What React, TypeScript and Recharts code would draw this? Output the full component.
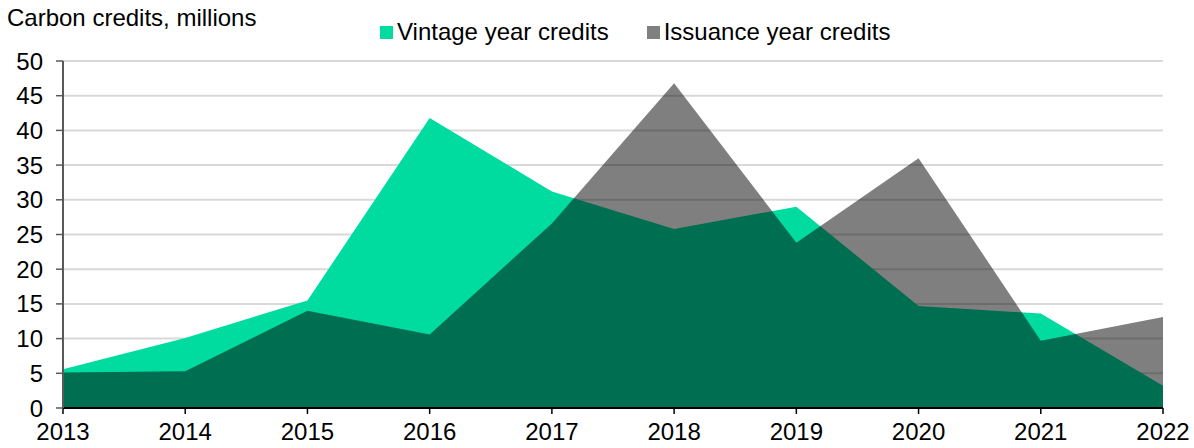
import React from 'react';
import { AreaChart, Area, XAxis, YAxis, CartesianGrid } from 'recharts';

const years = ['2013', '2014', '2015', '2016', '2017', '2018', '2019', '2020', '2021', '2022'];
const vintageCredits = [5.6, 10.1, 15.5, 41.8, 31.2, 25.8, 29.0, 14.7, 13.6, 3.2];
const issuanceCredits = [5.1, 5.3, 14.0, 10.6, 26.6, 46.8, 23.8, 36.0, 9.7, 13.1];
const yTicks = [0, 5, 10, 15, 20, 25, 30, 35, 40, 45, 50];

const data = years.map((year, i) => ({
  year,
  vintage: vintageCredits[i],
  issuance: issuanceCredits[i],
}));

const FONT = '"Liberation Sans", Arial, sans-serif';

const legendItems = [
  { label: 'Vintage year credits', color: '#00DCA0' },
  { label: 'Issuance year credits', color: '#808080' },
];

export default function App() {
  return (
    <div style={{ position: 'absolute', left: 0, top: 0, width: 1194, height: 448, background: '#fff' }}>
      {/* axis title */}
      <div
        style={{
          position: 'absolute',
          left: 7,
          top: 4,
          fontFamily: FONT,
          fontSize: 24,
          lineHeight: '28px',
          color: '#000',
          whiteSpace: 'nowrap',
        }}
      >
        Carbon credits, millions
      </div>
      {/* legend */}
      <div
        style={{
          position: 'absolute',
          left: 380,
          top: 18,
          display: 'flex',
          fontFamily: FONT,
          fontSize: 24,
          lineHeight: '28px',
          color: '#000',
          whiteSpace: 'nowrap',
        }}
      >
        {legendItems.map((item, i) => (
          <div key={item.label} style={{ display: 'flex', alignItems: 'center', marginLeft: i === 0 ? 0 : 38 }}>
            <span style={{ width: 13, height: 13, background: item.color, marginRight: 4, display: 'inline-block' }} />
            <span>{item.label}</span>
          </div>
        ))}
      </div>
      <AreaChart
        width={1194}
        height={448}
        data={data}
        margin={{ top: 61, right: 31, left: 0, bottom: 0 }}
        style={{ fontFamily: FONT }}
      >
        <CartesianGrid vertical={false} stroke="#d9d9d9" strokeWidth={2} />
        <XAxis
          dataKey="year"
          height={40}
          tickSize={6}
          tickMargin={9}
          axisLine={{ stroke: '#000', strokeWidth: 2 }}
          tickLine={{ stroke: '#000', strokeWidth: 1.5 }}
          tick={{ fill: '#000', fontSize: 24 }}
          interval={0}
        />
        <YAxis
          width={63}
          domain={[0, 50]}
          ticks={yTicks}
          tickSize={7}
          tickMargin={13}
          axisLine={{ stroke: '#595959', strokeWidth: 2 }}
          tickLine={{ stroke: '#595959', strokeWidth: 1.5 }}
          tick={{ fill: '#000', fontSize: 24 }}
          interval={0}
        />
        <Area
          type="linear"
          dataKey="vintage"
          name="Vintage year credits"
          stroke="none"
          fill="#00DCA0"
          fillOpacity={1}
          isAnimationActive={false}
        />
        <Area
          type="linear"
          dataKey="issuance"
          name="Issuance year credits"
          stroke="none"
          fill="#000000"
          fillOpacity={0.5}
          isAnimationActive={false}
        />
      </AreaChart>
    </div>
  );
}
